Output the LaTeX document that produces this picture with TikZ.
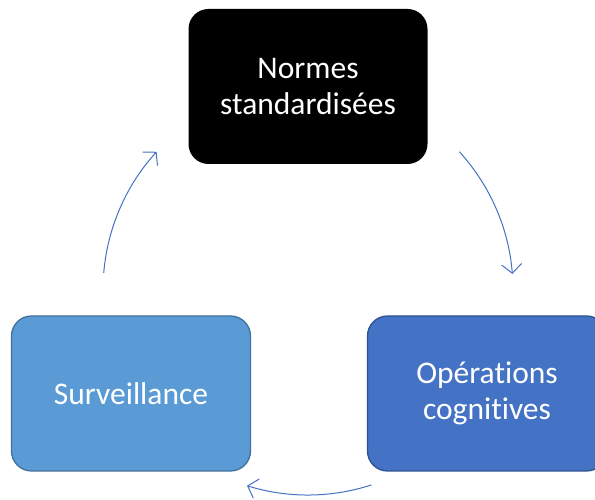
\documentclass[tikz,border=0pt]{standalone}
\usepackage{fontspec}
\setmainfont{Carlito}[Ligatures={NoCommon}]
\usetikzlibrary{arrows.meta,calc}
\definecolor{arrowblue}{HTML}{4472C4}
\definecolor{darkblue}{HTML}{4472C4}
\definecolor{darkblueborder}{HTML}{2F528F}
\definecolor{lightblue}{HTML}{5B9BD5}
\definecolor{lightblueborder}{HTML}{41719C}
\begin{document}
\begin{tikzpicture}[x=1pt,y=1pt,
  box/.style={rounded corners=20pt, minimum width=239pt, minimum height=155pt,
    inner sep=0pt, align=center, text=white, font=\fontsize{31.5}{36}\selectfont},
  conn/.style={draw=arrowblue, line width=1pt,
    -{Straight Barb[length=9pt,width=20pt,line width=1pt]}}]
\clip (0,0) rectangle (595,500);
\useasboundingbox (0,0) rectangle (595,500);
\fill[white] (0,0) rectangle (595,500);
\node[box, fill=black] (normes) at (308,413.5) {Normes\\standardisées};
\node[box, fill=darkblue, draw=darkblueborder, line width=1.3pt] (ops) at (487,106.5) {Opérations\\cognitives};
\node[box, fill=lightblue, draw=lightblueborder, line width=1.3pt] (surv) at (131,106.5) {Surveillance};
\coordinate (c) at (308,210);
\coordinate (a1s) at ($(c)+(42.4:205)$);
\draw[conn] (a1s) arc[start angle=42.4, end angle=4.5, radius=205];
\coordinate (a2s) at ($(c)+(-72:205)$);
\draw[conn] (a2s) arc[start angle=-72, end angle=-107.3, radius=205];
\coordinate (a3s) at ($(c)+(175.2:205)$);
\draw[conn] (a3s) arc[start angle=175.2, end angle=137.6, radius=205];
\end{tikzpicture}
\end{document}
